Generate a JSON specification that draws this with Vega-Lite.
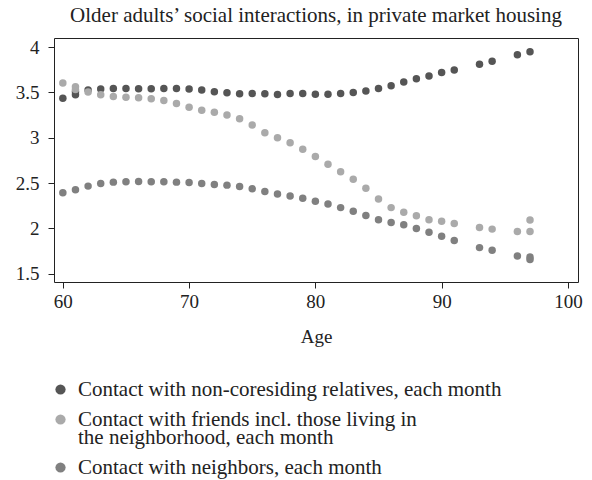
{
  "$schema": "https://vega.github.io/schema/vega-lite/v6.json",
  "width": 524,
  "height": 244,
  "padding": {"left": 15, "top": 5, "right": 10, "bottom": 5},
  "background": "white",
  "title": {"text": "Older adults’ social interactions, in private market housing", "font": "Liberation Serif", "fontSize": 21, "fontWeight": "normal", "color": "#222", "anchor": "middle", "offset": 12},
  "config": {
    "view": {"stroke": "#222", "strokeWidth": 1},
    "font": "Liberation Serif",
    "style": {"guide-label": {"lineHeight": 18}},
    "axis": {"grid": false, "domain": false, "tickColor": "#222", "tickSize": 6, "labelFont": "Liberation Serif", "labelFontSize": 19, "labelColor": "#222", "titleFont": "Liberation Serif", "titleFontSize": 19, "titleFontWeight": "normal", "titleColor": "#222"}
  },
  "data": {"values": [
    {"age": 60, "v": 3.437, "s": "Contact with non-coresiding relatives, each month"},
    {"age": 61, "v": 3.474, "s": "Contact with non-coresiding relatives, each month"},
    {"age": 61, "v": 3.507, "s": "Contact with non-coresiding relatives, each month"},
    {"age": 62, "v": 3.526, "s": "Contact with non-coresiding relatives, each month"},
    {"age": 63, "v": 3.537, "s": "Contact with non-coresiding relatives, each month"},
    {"age": 64, "v": 3.544, "s": "Contact with non-coresiding relatives, each month"},
    {"age": 65, "v": 3.544, "s": "Contact with non-coresiding relatives, each month"},
    {"age": 66, "v": 3.541, "s": "Contact with non-coresiding relatives, each month"},
    {"age": 67, "v": 3.541, "s": "Contact with non-coresiding relatives, each month"},
    {"age": 68, "v": 3.544, "s": "Contact with non-coresiding relatives, each month"},
    {"age": 69, "v": 3.544, "s": "Contact with non-coresiding relatives, each month"},
    {"age": 70, "v": 3.537, "s": "Contact with non-coresiding relatives, each month"},
    {"age": 71, "v": 3.526, "s": "Contact with non-coresiding relatives, each month"},
    {"age": 72, "v": 3.507, "s": "Contact with non-coresiding relatives, each month"},
    {"age": 73, "v": 3.496, "s": "Contact with non-coresiding relatives, each month"},
    {"age": 74, "v": 3.485, "s": "Contact with non-coresiding relatives, each month"},
    {"age": 75, "v": 3.489, "s": "Contact with non-coresiding relatives, each month"},
    {"age": 76, "v": 3.485, "s": "Contact with non-coresiding relatives, each month"},
    {"age": 77, "v": 3.478, "s": "Contact with non-coresiding relatives, each month"},
    {"age": 78, "v": 3.489, "s": "Contact with non-coresiding relatives, each month"},
    {"age": 79, "v": 3.489, "s": "Contact with non-coresiding relatives, each month"},
    {"age": 80, "v": 3.481, "s": "Contact with non-coresiding relatives, each month"},
    {"age": 81, "v": 3.481, "s": "Contact with non-coresiding relatives, each month"},
    {"age": 82, "v": 3.489, "s": "Contact with non-coresiding relatives, each month"},
    {"age": 83, "v": 3.5, "s": "Contact with non-coresiding relatives, each month"},
    {"age": 84, "v": 3.515, "s": "Contact with non-coresiding relatives, each month"},
    {"age": 85, "v": 3.544, "s": "Contact with non-coresiding relatives, each month"},
    {"age": 86, "v": 3.574, "s": "Contact with non-coresiding relatives, each month"},
    {"age": 87, "v": 3.615, "s": "Contact with non-coresiding relatives, each month"},
    {"age": 88, "v": 3.652, "s": "Contact with non-coresiding relatives, each month"},
    {"age": 89, "v": 3.681, "s": "Contact with non-coresiding relatives, each month"},
    {"age": 90, "v": 3.719, "s": "Contact with non-coresiding relatives, each month"},
    {"age": 91, "v": 3.748, "s": "Contact with non-coresiding relatives, each month"},
    {"age": 93, "v": 3.811, "s": "Contact with non-coresiding relatives, each month"},
    {"age": 94, "v": 3.844, "s": "Contact with non-coresiding relatives, each month"},
    {"age": 96, "v": 3.915, "s": "Contact with non-coresiding relatives, each month"},
    {"age": 97, "v": 3.948, "s": "Contact with non-coresiding relatives, each month"},
    {"age": 60, "v": 3.604, "s": "Contact with friends incl. those living in the neighborhood, each month"},
    {"age": 61, "v": 3.563, "s": "Contact with friends incl. those living in the neighborhood, each month"},
    {"age": 61, "v": 3.533, "s": "Contact with friends incl. those living in the neighborhood, each month"},
    {"age": 62, "v": 3.504, "s": "Contact with friends incl. those living in the neighborhood, each month"},
    {"age": 63, "v": 3.474, "s": "Contact with friends incl. those living in the neighborhood, each month"},
    {"age": 64, "v": 3.456, "s": "Contact with friends incl. those living in the neighborhood, each month"},
    {"age": 65, "v": 3.448, "s": "Contact with friends incl. those living in the neighborhood, each month"},
    {"age": 66, "v": 3.441, "s": "Contact with friends incl. those living in the neighborhood, each month"},
    {"age": 67, "v": 3.43, "s": "Contact with friends incl. those living in the neighborhood, each month"},
    {"age": 68, "v": 3.411, "s": "Contact with friends incl. those living in the neighborhood, each month"},
    {"age": 69, "v": 3.378, "s": "Contact with friends incl. those living in the neighborhood, each month"},
    {"age": 70, "v": 3.337, "s": "Contact with friends incl. those living in the neighborhood, each month"},
    {"age": 71, "v": 3.304, "s": "Contact with friends incl. those living in the neighborhood, each month"},
    {"age": 72, "v": 3.281, "s": "Contact with friends incl. those living in the neighborhood, each month"},
    {"age": 73, "v": 3.252, "s": "Contact with friends incl. those living in the neighborhood, each month"},
    {"age": 74, "v": 3.211, "s": "Contact with friends incl. those living in the neighborhood, each month"},
    {"age": 75, "v": 3.141, "s": "Contact with friends incl. those living in the neighborhood, each month"},
    {"age": 76, "v": 3.056, "s": "Contact with friends incl. those living in the neighborhood, each month"},
    {"age": 77, "v": 3.0, "s": "Contact with friends incl. those living in the neighborhood, each month"},
    {"age": 78, "v": 2.944, "s": "Contact with friends incl. those living in the neighborhood, each month"},
    {"age": 79, "v": 2.874, "s": "Contact with friends incl. those living in the neighborhood, each month"},
    {"age": 80, "v": 2.793, "s": "Contact with friends incl. those living in the neighborhood, each month"},
    {"age": 81, "v": 2.707, "s": "Contact with friends incl. those living in the neighborhood, each month"},
    {"age": 82, "v": 2.626, "s": "Contact with friends incl. those living in the neighborhood, each month"},
    {"age": 83, "v": 2.544, "s": "Contact with friends incl. those living in the neighborhood, each month"},
    {"age": 84, "v": 2.444, "s": "Contact with friends incl. those living in the neighborhood, each month"},
    {"age": 85, "v": 2.326, "s": "Contact with friends incl. those living in the neighborhood, each month"},
    {"age": 86, "v": 2.23, "s": "Contact with friends incl. those living in the neighborhood, each month"},
    {"age": 87, "v": 2.178, "s": "Contact with friends incl. those living in the neighborhood, each month"},
    {"age": 88, "v": 2.141, "s": "Contact with friends incl. those living in the neighborhood, each month"},
    {"age": 89, "v": 2.096, "s": "Contact with friends incl. those living in the neighborhood, each month"},
    {"age": 90, "v": 2.081, "s": "Contact with friends incl. those living in the neighborhood, each month"},
    {"age": 91, "v": 2.056, "s": "Contact with friends incl. those living in the neighborhood, each month"},
    {"age": 93, "v": 2.011, "s": "Contact with friends incl. those living in the neighborhood, each month"},
    {"age": 94, "v": 1.993, "s": "Contact with friends incl. those living in the neighborhood, each month"},
    {"age": 96, "v": 1.967, "s": "Contact with friends incl. those living in the neighborhood, each month"},
    {"age": 97, "v": 1.967, "s": "Contact with friends incl. those living in the neighborhood, each month"},
    {"age": 97, "v": 2.093, "s": "Contact with friends incl. those living in the neighborhood, each month"},
    {"age": 60, "v": 2.393, "s": "Contact with neighbors, each month"},
    {"age": 61, "v": 2.426, "s": "Contact with neighbors, each month"},
    {"age": 62, "v": 2.467, "s": "Contact with neighbors, each month"},
    {"age": 63, "v": 2.496, "s": "Contact with neighbors, each month"},
    {"age": 64, "v": 2.511, "s": "Contact with neighbors, each month"},
    {"age": 65, "v": 2.515, "s": "Contact with neighbors, each month"},
    {"age": 66, "v": 2.519, "s": "Contact with neighbors, each month"},
    {"age": 67, "v": 2.515, "s": "Contact with neighbors, each month"},
    {"age": 68, "v": 2.515, "s": "Contact with neighbors, each month"},
    {"age": 69, "v": 2.511, "s": "Contact with neighbors, each month"},
    {"age": 70, "v": 2.507, "s": "Contact with neighbors, each month"},
    {"age": 71, "v": 2.496, "s": "Contact with neighbors, each month"},
    {"age": 72, "v": 2.485, "s": "Contact with neighbors, each month"},
    {"age": 73, "v": 2.478, "s": "Contact with neighbors, each month"},
    {"age": 74, "v": 2.463, "s": "Contact with neighbors, each month"},
    {"age": 75, "v": 2.437, "s": "Contact with neighbors, each month"},
    {"age": 76, "v": 2.407, "s": "Contact with neighbors, each month"},
    {"age": 77, "v": 2.381, "s": "Contact with neighbors, each month"},
    {"age": 78, "v": 2.359, "s": "Contact with neighbors, each month"},
    {"age": 79, "v": 2.333, "s": "Contact with neighbors, each month"},
    {"age": 80, "v": 2.3, "s": "Contact with neighbors, each month"},
    {"age": 81, "v": 2.27, "s": "Contact with neighbors, each month"},
    {"age": 82, "v": 2.23, "s": "Contact with neighbors, each month"},
    {"age": 83, "v": 2.189, "s": "Contact with neighbors, each month"},
    {"age": 84, "v": 2.144, "s": "Contact with neighbors, each month"},
    {"age": 85, "v": 2.096, "s": "Contact with neighbors, each month"},
    {"age": 86, "v": 2.067, "s": "Contact with neighbors, each month"},
    {"age": 87, "v": 2.041, "s": "Contact with neighbors, each month"},
    {"age": 88, "v": 2.0, "s": "Contact with neighbors, each month"},
    {"age": 89, "v": 1.959, "s": "Contact with neighbors, each month"},
    {"age": 90, "v": 1.915, "s": "Contact with neighbors, each month"},
    {"age": 91, "v": 1.867, "s": "Contact with neighbors, each month"},
    {"age": 93, "v": 1.789, "s": "Contact with neighbors, each month"},
    {"age": 94, "v": 1.759, "s": "Contact with neighbors, each month"},
    {"age": 96, "v": 1.696, "s": "Contact with neighbors, each month"},
    {"age": 97, "v": 1.685, "s": "Contact with neighbors, each month"},
    {"age": 97, "v": 1.659, "s": "Contact with neighbors, each month"}
  ]},
  "mark": {"type": "circle", "size": 56, "opacity": 1},
  "encoding": {
    "x": {"field": "age", "type": "quantitative", "title": "Age",
      "scale": {"domain": [59.3, 100.8], "nice": false, "zero": false},
      "axis": {"values": [60, 70, 80, 90, 100], "labelPadding": 4, "titlePadding": 16}},
    "y": {"field": "v", "type": "quantitative", "title": null,
      "scale": {"domain": [1.41, 4.1], "nice": false, "zero": false},
      "axis": {"values": [1.5, 2, 2.5, 3, 3.5, 4], "labelPadding": 9, "format": ".1~f"}},
    "color": {"field": "s", "type": "nominal",
      "sort": ["Contact with non-coresiding relatives, each month", "Contact with friends incl. those living in the neighborhood, each month", "Contact with neighbors, each month"],
      "scale": {"domain": ["Contact with non-coresiding relatives, each month", "Contact with friends incl. those living in the neighborhood, each month", "Contact with neighbors, each month"], "range": ["#555555", "#aaaaaa", "#808080"]},
      "legend": {"title": null, "orient": "none", "legendX": -4, "legendY": 341, "direction": "vertical",
        "symbolType": "circle", "symbolSize": 105, "symbolOpacity": 1, "symbolStrokeWidth": 0,
        "labelFont": "Liberation Serif", "labelFontSize": 21, "labelColor": "#222", "labelLimit": 520, "labelOffset": 7, "rowPadding": 8,
        "labelExpr": "indexof(datum.label, 'friends') >= 0 ? ['Contact with friends incl. those living in', 'the neighborhood, each month'] : datum.label"}},
    "order": {"field": "s", "sort": "descending"}
  }
}
